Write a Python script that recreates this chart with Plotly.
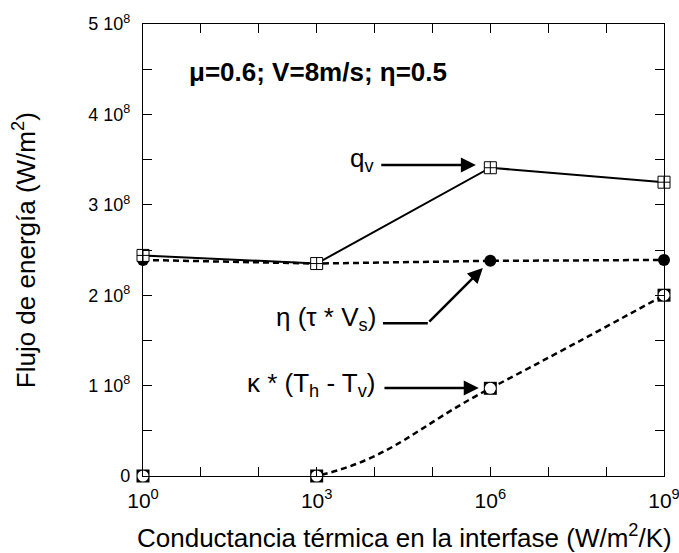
import plotly.graph_objects as go

# Data
x_vals = [1, 1e3, 1e6, 1e9]
q_v = [2.44e8, 2.35e8, 3.41e8, 3.25e8]
eta_tau_vs = [2.39e8, 2.35e8, 2.38e8, 2.39e8]
kappa_dT = [0.0, 0.0, 0.97e8, 2.0e8]

x_tickvals = [10**k for k in range(0, 10)]
x_ticktext = ["10<sup>0</sup>", "", "", "10<sup>3</sup>", "", "", "10<sup>6</sup>", "", "", "10<sup>9</sup>"]
y_tickvals = [i * 0.5e8 for i in range(0, 11)]
y_ticktext = ["0", "", "1 10<sup>8</sup>", "", "2 10<sup>8</sup>", "", "3 10<sup>8</sup>", "", "4 10<sup>8</sup>", "", "5 10<sup>8</sup>"]

FONT = "Arial, 'Liberation Sans', sans-serif"
BIG = 26

fig = go.Figure()

# kappa (dashed smooth)
fig.add_trace(go.Scatter(x=x_vals, y=kappa_dT, mode="lines",
                         line=dict(color="black", width=2.5, dash="6px,4px", shape="spline", smoothing=1.3),
                         showlegend=False, hoverinfo="skip", cliponaxis=False))
fig.add_trace(go.Scatter(x=x_vals, y=kappa_dT, mode="markers",
                         marker=dict(symbol="square", size=13, color="black", line=dict(width=0)),
                         showlegend=False, hoverinfo="skip", cliponaxis=False))
fig.add_trace(go.Scatter(x=x_vals, y=kappa_dT, mode="markers",
                         marker=dict(symbol="circle", size=11, color="white", line=dict(width=0)),
                         showlegend=False, hoverinfo="skip", cliponaxis=False))

# eta (tau V_s) dashed with filled circles
fig.add_trace(go.Scatter(x=x_vals, y=eta_tau_vs, mode="lines+markers",
                         line=dict(color="black", width=2.5, dash="6px,4px"),
                         marker=dict(symbol="circle", size=12, color="black"),
                         showlegend=False, hoverinfo="skip", cliponaxis=False))

# q_v solid with square-cross open markers
fig.add_trace(go.Scatter(x=x_vals, y=q_v, mode="lines+markers",
                         line=dict(color="black", width=2),
                         marker=dict(symbol="square-cross", size=12, color="white",
                                     line=dict(color="black", width=1)),
                         showlegend=False, hoverinfo="skip", cliponaxis=False))

annotations = [
    dict(text="<b>μ=0.6; V=8m/s; η=0.5</b>", x=0.084, y=0.894, xref="paper", yref="paper",
         xanchor="left", yanchor="middle", showarrow=False, font=dict(size=BIG, color="black", family=FONT)),
    # q_v
    dict(text="q<sub>v</sub>", x=4.02, y=3.50e8, xref="x", yref="y", xanchor="right", yanchor="middle",
         showarrow=False, font=dict(size=BIG, color="black", family=FONT)),
    dict(text="", x=5.75, y=3.44e8, ax=4.09, ay=3.44e8, xref="x", yref="y", axref="x", ayref="y",
         showarrow=True, arrowhead=2, arrowsize=1.2, arrowwidth=2.5, arrowcolor="black"),
    # eta
    dict(text="η (τ * V<sub>s</sub>)", x=4.06, y=1.74e8, xref="x", yref="y", xanchor="right", yanchor="middle",
         showarrow=False, font=dict(size=BIG, color="black", family=FONT)),
    dict(text="", x=5.87, y=2.30e8, ax=4.92, ay=1.69e8, xref="x", yref="y", axref="x", ayref="y",
         showarrow=True, arrowhead=2, arrowsize=1.2, arrowwidth=2.5, arrowcolor="black"),
    # kappa
    dict(text="κ * (T<sub>h</sub> - T<sub>v</sub>)", x=4.06, y=1.01e8, xref="x", yref="y", xanchor="right", yanchor="middle",
         showarrow=False, font=dict(size=BIG, color="black", family=FONT)),
    dict(text="", x=5.80, y=0.973e8, ax=4.145, ay=0.973e8, xref="x", yref="y", axref="x", ayref="y",
         showarrow=True, arrowhead=2, arrowsize=1.2, arrowwidth=2.5, arrowcolor="black"),
    # axis titles
    dict(text="Conductancia térmica en la interfase (W/m<sup>2</sup>/K)", x=0.501, y=-0.134,
         xref="paper", yref="paper", xanchor="center", yanchor="middle", showarrow=False,
         font=dict(size=BIG, color="black", family=FONT)),
    dict(text="Flujo de energía (W/m<sup>2</sup>)", x=-0.228, y=0.5, textangle=-90,
         xref="paper", yref="paper", xanchor="center", yanchor="middle", showarrow=False,
         font=dict(size=BIG, color="black", family=FONT)),
]

shapes = [
    dict(type="line", xref="x", yref="y", x0=10**4.145, x1=10**4.92, y0=1.69e8, y1=1.69e8,
         line=dict(color="black", width=2.5)),
]

fig.update_layout(
    width=679, height=553,
    margin=dict(l=143, r=15, t=24, b=77, autoexpand=False),
    paper_bgcolor="white", plot_bgcolor="white",
    font=dict(family=FONT, color="black", size=18),
    annotations=annotations, shapes=shapes,
    showlegend=False,
)
fig.update_xaxes(type="log", range=[0, 9], tickvals=x_tickvals, ticktext=x_ticktext,
                 ticks="inside", ticklen=9, tickwidth=1, tickcolor="black",
                 showline=True, linecolor="black", linewidth=1.2, mirror="ticks",
                 showgrid=False, zeroline=False, tickfont=dict(size=21, family=FONT),
                 ticklabelstandoff=6, ticklabeloverflow="allow", automargin=False)
fig.update_yaxes(range=[0, 5e8], tickvals=y_tickvals, ticktext=y_ticktext,
                 ticks="inside", ticklen=9, tickwidth=1, tickcolor="black",
                 showline=True, linecolor="black", linewidth=1.2, mirror="ticks",
                 showgrid=False, zeroline=False, tickfont=dict(size=18, family=FONT),
                 ticklabelstandoff=8, automargin=False)

fig.write_html("out.html", config={"displayModeBar": False},
               post_script="document.body.style.margin='0';")
